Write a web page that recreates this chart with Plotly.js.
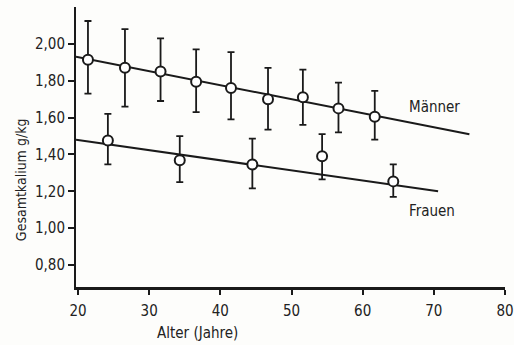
<!DOCTYPE html>
<html>
<head>
<meta charset="utf-8">
<script src="https://cdn.plot.ly/plotly-3.0.1.min.js"></script>
<style>html,body{margin:0;padding:0;background:#fdfdfb;}#chart{width:514px;height:345px;}</style>
</head>
<body>
<div id="chart"></div>
<script>
// Männer (men)
var menAge   = [21.4, 26.6, 31.6, 36.6, 41.5, 46.7, 51.6, 56.6, 61.7];
var menK     = [1.914, 1.87, 1.85, 1.795, 1.76, 1.70, 1.71, 1.65, 1.605];
var menUpper = [2.124, 2.08, 2.03, 1.97, 1.955, 1.87, 1.86, 1.79, 1.745];
var menLower = [1.73, 1.66, 1.69, 1.63, 1.59, 1.535, 1.56, 1.52, 1.48];
var menFitAge = [19.72, 75];
var menFitK   = [1.93, 1.51];

// Frauen (women)
var womenAge   = [24.2, 34.3, 44.5, 54.3, 64.3];
var womenK     = [1.476, 1.368, 1.346, 1.39, 1.254];
var womenUpper = [1.62, 1.50, 1.486, 1.51, 1.346];
var womenLower = [1.346, 1.25, 1.216, 1.265, 1.17];
var womenFitAge = [19.72, 70.6];
var womenFitK   = [1.48, 1.20];

// Axis ticks
var xTicks = [20, 30, 40, 50, 60, 70, 80];
var yTicks = [0.8, 1.0, 1.2, 1.4, 1.6, 1.8, 2.0];
var yTickText = ["0,80", "1,00", "1,20", "1,40", "1,60", "1,80", "2,00"];

var ink = "#1a1a1a";
var txt = "#222222";
var font = "DejaVu Sans Condensed, DejaVu Sans, sans-serif";

function diff(a, b) { return a.map(function (v, i) { return v - b[i]; }); }

var traces = [
  {x: menFitAge, y: menFitK, mode: "lines", line: {color: ink, width: 2}, hoverinfo: "skip"},
  {x: womenFitAge, y: womenFitK, mode: "lines", line: {color: ink, width: 2}, hoverinfo: "skip"},
  {x: menAge, y: menK, mode: "markers",
   error_y: {type: "data", symmetric: false, array: diff(menUpper, menK), arrayminus: diff(menK, menLower),
             color: ink, thickness: 1.8, width: 3.5},
   marker: {symbol: "circle", size: 10, color: "#ffffff", line: {color: ink, width: 2}}},
  {x: womenAge, y: womenK, mode: "markers",
   error_y: {type: "data", symmetric: false, array: diff(womenUpper, womenK), arrayminus: diff(womenK, womenLower),
             color: ink, thickness: 1.8, width: 3.5},
   marker: {symbol: "circle", size: 10, color: "#ffffff", line: {color: ink, width: 2}}}
];

var layout = {
  width: 514, height: 345,
  margin: {l: 76, r: 9, t: 7, b: 58},
  paper_bgcolor: "#fdfdfb", plot_bgcolor: "#fdfdfb",
  showlegend: false,
  font: {family: font, size: 14, color: txt},
  xaxis: {
    range: [19.72, 80], tickvals: xTicks, ticktext: xTicks.map(String),
    showgrid: false, zeroline: false, showline: true, linecolor: ink, linewidth: 2.5,
    ticks: "outside", ticklen: 5, tickwidth: 2, tickcolor: ink,
    tickfont: {family: font, size: 15, color: txt}, ticklabelstandoff: 3,
    ticklabeloverflow: "allow", automargin: false
  },
  yaxis: {
    range: [0.681, 2.2], tickvals: yTicks, ticktext: yTickText,
    showgrid: false, zeroline: false, showline: true, linecolor: ink, linewidth: 2,
    ticks: "outside", ticklen: 6, tickwidth: 2, tickcolor: ink,
    tickfont: {family: font, size: 15, color: txt}, automargin: false
  },
  annotations: [
    {x: 66.2, y: 1.66, xref: "x", yref: "y", text: "Männer", showarrow: false, xanchor: "left",
     font: {family: font, size: 15, color: txt}},
    {x: 66.2, y: 1.092, xref: "x", yref: "y", text: "Frauen", showarrow: false, xanchor: "left",
     font: {family: font, size: 15, color: txt}},
    {x: 0.284, y: -0.164, xref: "paper", yref: "paper", text: "Alter (Jahre)", showarrow: false,
     xanchor: "center", yanchor: "middle", font: {family: font, size: 15, color: txt}},
    {x: -0.128, y: 0.382, xref: "paper", yref: "paper", text: "Gesamtkalium g/kg", showarrow: false,
     textangle: -90, xanchor: "center", yanchor: "middle", font: {family: font, size: 14, color: txt}}
  ]
};

Plotly.newPlot("chart", traces, layout, {displayModeBar: false, staticPlot: true});
</script>
</body>
</html>
